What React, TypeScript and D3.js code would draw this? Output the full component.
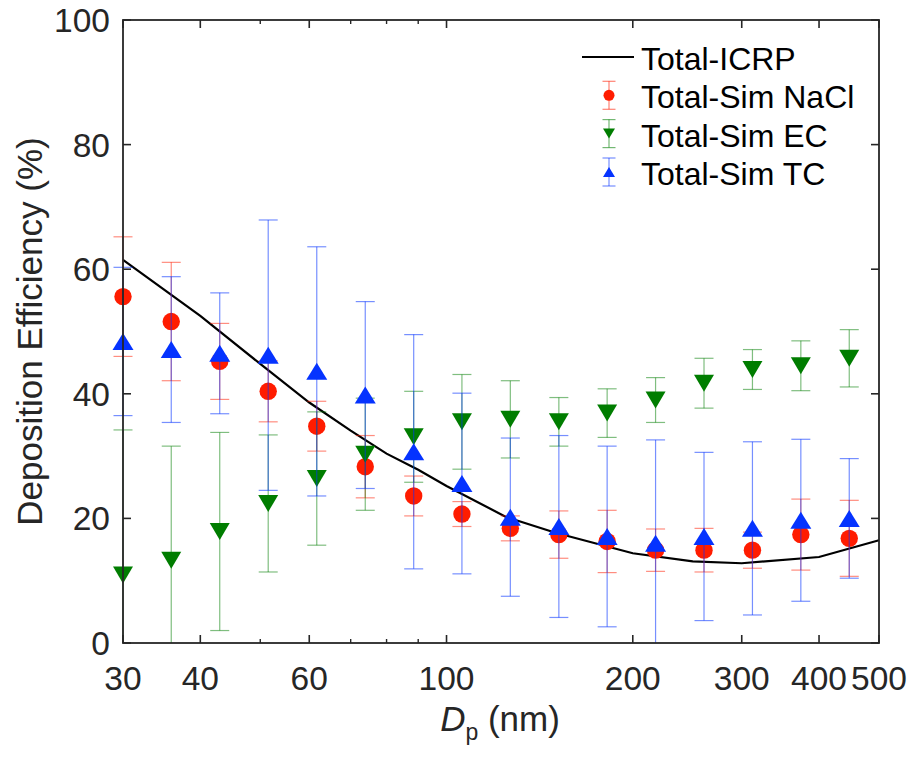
import React from "react";
import * as d3 from "d3";

// ---------- data ----------
const diameters = [30, 35.9, 43.0, 51.5, 61.7, 73.9, 88.5, 105.9, 126.8, 151.9, 181.8, 217.7, 260.7, 312.2, 373.8, 447.6];

const naclMean = [55.6, 51.6, 45.2, 40.4, 34.8, 28.3, 23.6, 20.7, 18.4, 17.4, 16.3, 14.9, 14.9, 14.9, 17.4, 16.8];
const naclErr = [9.6, 9.5, 6.1, 4.9, 4.0, 5.0, 3.2, 2.0, 2.0, 3.8, 5.0, 3.4, 3.5, 2.9, 5.7, 6.1];

const ecMean = [10.9, 13.3, 17.9, 22.4, 26.4, 30.3, 33.1, 35.5, 35.9, 35.5, 36.9, 39.0, 41.7, 43.9, 44.5, 45.7];
const ecErr = [23.3, 18.3, 15.9, 11.0, 10.7, 9.0, 7.3, 7.6, 6.2, 3.9, 3.9, 3.6, 4.0, 3.2, 4.0, 4.6];

const tcMean = [48.4, 47.1, 46.5, 46.2, 43.6, 39.8, 30.7, 25.6, 20.2, 18.7, 17.1, 16.0, 17.1, 18.4, 19.7, 20.0];
const tcErr = [11.9, 11.7, 9.7, 21.7, 20.0, 15.0, 18.8, 14.5, 12.7, 14.6, 14.5, 16.6, 13.5, 13.9, 13.0, 9.6];

const icrpDp = [30, 40, 50, 60, 70, 80, 90, 100, 125, 150, 200, 250, 300, 400, 500];
const icrpTotal = [61.5, 52.5, 44.8, 38.6, 34.1, 30.4, 27.8, 25.2, 20.2, 17.7, 14.4, 13.1, 12.8, 13.8, 16.5];

const xMajorTicks = [30, 40, 60, 100, 200, 300, 400, 500];
const xMinorTicks = [50, 70, 80, 90];
const yTicks = [0, 20, 40, 60, 80, 100];

const legendLabels = ["Total-ICRP", "Total-Sim NaCl", "Total-Sim EC", "Total-Sim TC"];

// ---------- layout ----------
const W = 914;
const H = 759;
const L = 123;
const R = 879;
const T = 20;
const B = 643;
const FONT = "'Liberation Sans', Arial, Helvetica, sans-serif";
const AX = "#262626";

const RED = "#ff1c00";
const GREEN = "#007d00";
const BLUE = "#0533ff";

export default function App() {
  const x = d3.scaleLog().domain([30, 500]).range([L, R]);
  const y = d3.scaleLinear().domain([0, 100]).range([B, T]);

  const line = d3
    .line<number>()
    .x((_, i) => x(icrpDp[i]))
    .y((d) => y(d));

  const capW = 19;

  const errorBars = (means: number[], errs: number[], color: string, op: number) =>
    means.map((m, i) => {
      const cx = x(diameters[i]);
      const y1 = y(m + errs[i]);
      const y0 = y(m - errs[i]);
      return (
        <g key={i} stroke={color} strokeOpacity={op} strokeWidth={1.2}>
          <line x1={cx} x2={cx} y1={y1} y2={y0} clipPath="url(#clipv)" />
          {m + errs[i] <= 100 && <line x1={cx - capW / 2} x2={cx + capW / 2} y1={y1} y2={y1} />}
          {m - errs[i] >= 0 && <line x1={cx - capW / 2} x2={cx + capW / 2} y1={y0} y2={y0} />}
        </g>
      );
    });

  const triUp = (cx: number, cy: number, w: number, h: number) =>
    `M${cx - w / 2},${cy + h / 2}L${cx + w / 2},${cy + h / 2}L${cx},${cy - h / 2}Z`;
  const triDown = (cx: number, cy: number, w: number, h: number) =>
    `M${cx - w / 2},${cy - h / 2}L${cx + w / 2},${cy - h / 2}L${cx},${cy + h / 2}Z`;

  const legX = 609;
  const legBase = [70, 108.3, 146.6, 185];

  return (
    <svg
      width={W}
      height={H}
      style={{ position: "absolute", left: 0, top: 0, background: "#fff" }}
      fontFamily={FONT}
    >
      <defs>
        <clipPath id="clipv">
          <rect x={0} y={T} width={W} height={B - T} />
        </clipPath>
      </defs>
      <rect x={0} y={0} width={W} height={H} fill="#fff" />

      {/* ICRP line */}
      <path d={line(icrpTotal) || ""} fill="none" stroke="#000" strokeWidth={2.2} />

      {/* NaCl */}
      {errorBars(naclMean, naclErr, RED, 0.5)}
      {naclMean.map((m, i) => (
        <circle key={i} cx={x(diameters[i])} cy={y(m)} r={8.7} fill={RED} />
      ))}

      {/* EC */}
      {errorBars(ecMean, ecErr, GREEN, 0.5)}
      {ecMean.map((m, i) => (
        <path key={i} d={triDown(x(diameters[i]), y(m), 20, 17)} fill={GREEN} />
      ))}

      {/* TC */}
      {errorBars(tcMean, tcErr, BLUE, 0.55)}
      {tcMean.map((m, i) => (
        <path key={i} d={triUp(x(diameters[i]), y(m), 21, 17)} fill={BLUE} />
      ))}

      {/* axes box */}
      <rect x={L} y={T} width={R - L} height={B - T} fill="none" stroke={AX} strokeWidth={1.8} />

      {/* x ticks */}
      {xMajorTicks.map((t) => (
        <g key={"xm" + t} stroke={AX} strokeWidth={1.6}>
          <line x1={x(t)} x2={x(t)} y1={B} y2={B - 8} />
          <line x1={x(t)} x2={x(t)} y1={T} y2={T + 8} />
        </g>
      ))}
      {xMinorTicks.map((t) => (
        <g key={"xn" + t} stroke={AX} strokeWidth={1.4}>
          <line x1={x(t)} x2={x(t)} y1={B} y2={B - 4} />
          <line x1={x(t)} x2={x(t)} y1={T} y2={T + 4} />
        </g>
      ))}
      {xMajorTicks.map((t) => (
        <text
          key={"xl" + t}
          x={x(t)}
          y={690}
          textAnchor="middle"
          fontSize={33.5}
          fill={AX}
        >
          {t}
        </text>
      ))}

      {/* y ticks */}
      {yTicks.map((t) => (
        <g key={"y" + t} stroke={AX} strokeWidth={1.6}>
          <line x1={L} x2={L + 8} y1={y(t)} y2={y(t)} />
          <line x1={R} x2={R - 8} y1={y(t)} y2={y(t)} />
        </g>
      ))}
      {yTicks.map((t) => (
        <text
          key={"yl" + t}
          x={110}
          y={y(t) + 12}
          textAnchor="end"
          fontSize={33.5}
          fill={AX}
        >
          {t}
        </text>
      ))}

      {/* axis labels */}
      <text x={500} y={731} textAnchor="middle" fontSize={35} fill={AX}>
        <tspan fontStyle="italic">D</tspan>
        <tspan fontSize={23} dy={9}>p</tspan>
        <tspan dy={-9}> (nm)</tspan>
      </text>
      <text
        transform={`translate(42, ${(T + B) / 2}) rotate(-90)`}
        textAnchor="middle"
        fontSize={35}
        fill={AX}
      >
        Deposition Efficiency (%)
      </text>

      {/* legend */}
      <g>
        <line x1={582} x2={634} y1={legBase[0] - 13} y2={legBase[0] - 13} stroke="#000" strokeWidth={2} />
        {[RED, GREEN, BLUE].map((c, k) => {
          const cy = legBase[k + 1] - 13;
          return (
            <g key={k}>
              <g stroke={c} strokeOpacity={0.55} strokeWidth={1.2}>
                <line x1={legX} x2={legX} y1={cy - 14} y2={cy + 14} />
                <line x1={legX - 6.5} x2={legX + 6.5} y1={cy - 14} y2={cy - 14} />
                <line x1={legX - 6.5} x2={legX + 6.5} y1={cy + 14} y2={cy + 14} />
              </g>
              {k === 0 && <circle cx={legX} cy={cy} r={5.5} fill={c} />}
              {k === 1 && <path d={triDown(legX, cy, 12, 10)} fill={c} />}
              {k === 2 && <path d={triUp(legX, cy, 12, 10)} fill={c} />}
            </g>
          );
        })}
        {legendLabels.map((s, k) => (
          <text key={s} x={641} y={legBase[k]} fontSize={32} fill="#000">
            {s}
          </text>
        ))}
      </g>
    </svg>
  );
}
